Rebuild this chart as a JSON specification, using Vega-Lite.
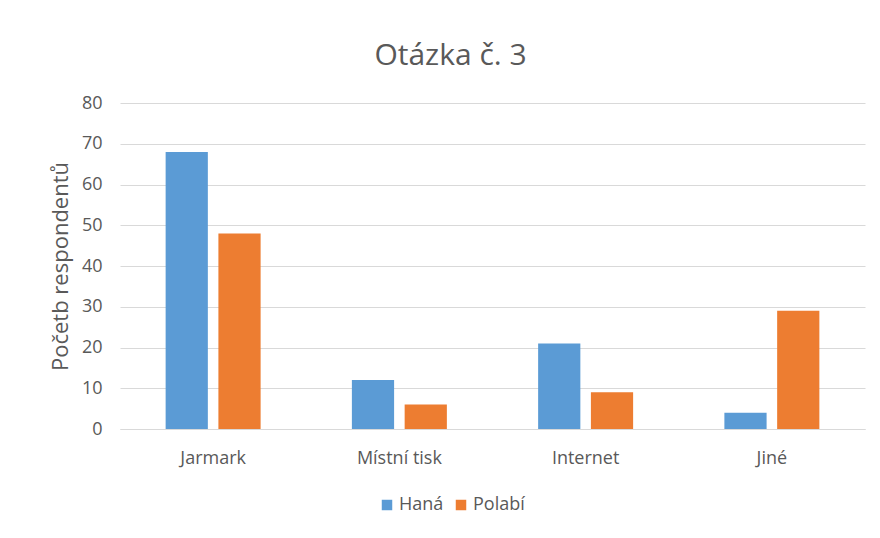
{
  "$schema": "https://vega.github.io/schema/vega-lite/v6.json",
  "width": 745,
  "height": 326,
  "autosize": {"type": "none"},
  "padding": {"left": 120, "top": 103, "right": 15, "bottom": 109},
  "background": "white",
  "title": {"text": "Otázka č. 3", "fontSize": 30, "font": "Open Sans", "fontWeight": "normal", "color": "#595959", "anchor": "middle", "dx": -42, "offset": 23},
  "data": {"values": [
    {"kategorie": "Jarmark", "region": "Haná", "pocet": 68},
    {"kategorie": "Jarmark", "region": "Polabí", "pocet": 48},
    {"kategorie": "Místní tisk", "region": "Haná", "pocet": 12},
    {"kategorie": "Místní tisk", "region": "Polabí", "pocet": 6},
    {"kategorie": "Internet", "region": "Haná", "pocet": 21},
    {"kategorie": "Internet", "region": "Polabí", "pocet": 9},
    {"kategorie": "Jiné", "region": "Haná", "pocet": 4},
    {"kategorie": "Jiné", "region": "Polabí", "pocet": 29}
  ]},
  "mark": {"type": "bar"},
  "encoding": {
    "x": {"field": "kategorie", "type": "nominal", "sort": ["Jarmark", "Místní tisk", "Internet", "Jiné"],
      "scale": {"paddingInner": 0.49, "paddingOuter": 0.245},
      "axis": {"title": null, "grid": false, "labelAngle": 0, "labelFontSize": 18, "labelColor": "#595959", "labelFont": "Open Sans", "ticks": false, "domain": true, "domainColor": "#d9d9d9", "labelPadding": 20}},
    "xOffset": {"field": "region", "type": "nominal", "scale": {"paddingInner": 0.2}},
    "y": {"field": "pocet", "type": "quantitative", "scale": {"domain": [0, 80]},
      "axis": {"title": "Početb respondentů", "titleFontSize": 22, "titleFontWeight": "normal", "titleColor": "#595959", "titleFont": "Open Sans", "titlePadding": 9, "values": [0, 10, 20, 30, 40, 50, 60, 70, 80], "labelOverlap": false, "labelFontSize": 18, "labelColor": "#595959", "labelFont": "Open Sans", "ticks": false, "domain": false, "grid": true, "gridColor": "#d9d9d9", "labelPadding": 18}},
    "color": {"field": "region", "type": "nominal", "scale": {"domain": ["Haná", "Polabí"], "range": ["#5B9BD5", "#ED7D31"]},
      "legend": {"title": null, "orient": "none", "legendX": 258, "legendY": 393, "direction": "horizontal", "symbolType": "square", "symbolSize": 110, "symbolStrokeWidth": 0, "labelFontSize": 18, "labelColor": "#595959", "labelFont": "Open Sans", "columnPadding": 8, "labelOffset": 3}}
  },
  "config": {"view": {"stroke": null}}
}
